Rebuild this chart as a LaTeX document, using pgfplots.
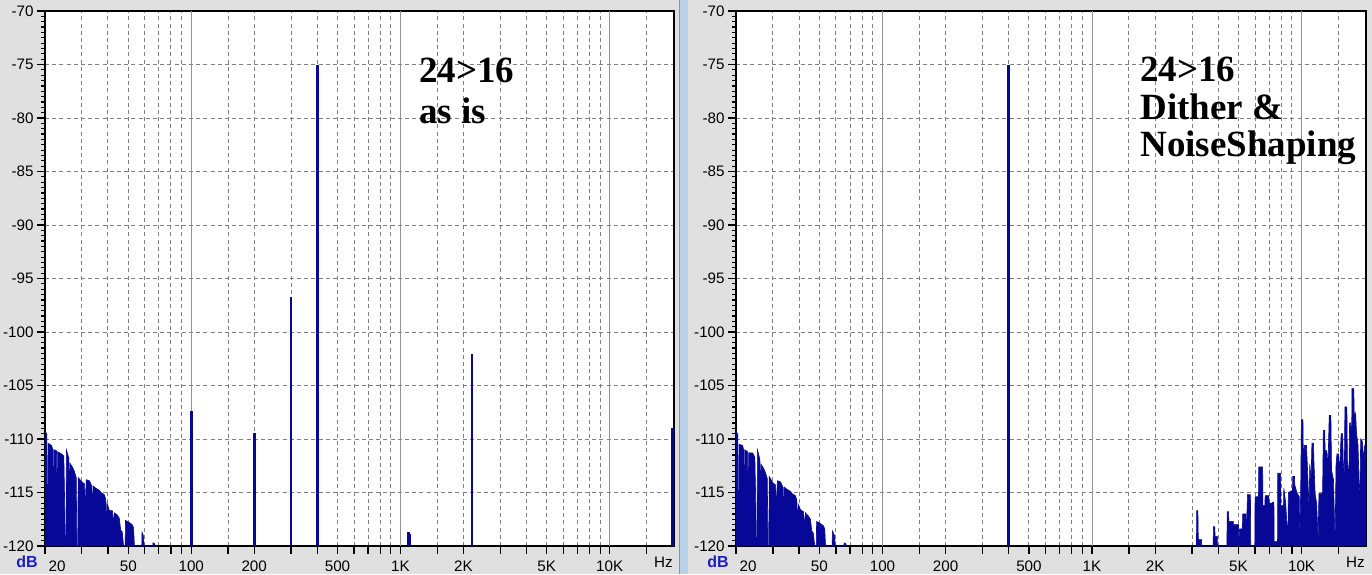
\documentclass[border=0pt]{standalone}
\usepackage{fontspec}
\setmainfont{Liberation Sans}
\newfontfamily\titlefont{Liberation Serif}
\usepackage{pgfplots}
\pgfplotsset{compat=1.18}

\definecolor{bggray}{RGB}{224,224,224}
\definecolor{sepblue}{RGB}{186,209,234}
\definecolor{sepedge}{RGB}{120,150,190}
\definecolor{specblue}{RGB}{8,8,152}
\definecolor{gridgray}{RGB}{128,128,128}
\definecolor{dbblue}{RGB}{30,30,190}

\pgfplotsset{
  every axis/.append style={
    scale only axis, height=267.5pt,
    xmin=20, xmax=20300, ymin=-120, ymax=-70,
    axis background/.style={fill=white},
    axis line style={black, line width=1pt},
    tick align=outside, tick pos=left,
    xtick={20,30,40,50,60,70,80,90,150,200,300,400,500,600,700,800,900,
           1500,2000,3000,4000,5000,6000,7000,8000,9000,15000},
    xticklabels={\hspace*{12pt}20,{},{},50,{},{},{},{},
                 {},200,{},{},500,{},{},{},{},
                 {},2K,{},{},5K,{},{},{},{},{}},
    extra x ticks={100,1000,10000},
    extra x tick labels={100,1K,10K},
    extra x tick style={grid=major, major grid style={solid, gridgray!85, line width=0.5pt}},
    ytick={-120,-115,...,-70},
    minor y tick num=9,
    xmajorgrids, ymajorgrids,
    major grid style={gridgray, dash pattern=on 2pt off 1.6pt, line width=0.5pt},
    major tick length=4pt, minor tick length=2pt,
    every tick/.style={black, line width=0.6pt},
    tick label style={font=\fontsize{7.6}{8}\selectfont},
    yticklabel style={inner xsep=1.5pt},
    /pgf/number format/assume math mode=true,
  },
}

\begin{document}
\begin{tikzpicture}[x=0.5pt,y=-0.5pt]
\useasboundingbox (0,0) rectangle (1372,574);
\fill[bggray] (0,0) rectangle (1372,574);
\fill[sepblue] (679,0) rectangle (688,574);
\draw[sepedge, line width=0.6pt] (679.5,0) -- (679.5,574);
\coordinate (leftorigin) at (45,546);
\coordinate (rightorigin) at (736,546);

% 24>16 as is
\begin{semilogxaxis}[at={(leftorigin)}, anchor=south west, width=314.5pt]
\addplot[fill=specblue, draw=specblue, line width=0.3pt] coordinates {
  (20,-120) (20,-109.3) (20.4,-109.5) (20.5,-115.8) (20.55,-120) (20.65,-120)
  (20.7,-110.4) (21.5,-110.6) (21.8,-111.0) (21.9,-116.8) (21.95,-120)
  (22.05,-111.0) (22.7,-111.1) (22.9,-118.0) (23.0,-111.2) (24.0,-111.4)
  (24.6,-111.6) (24.8,-115.5) (25.0,-120) (25.2,-120) (25.3,-111.0)
  (26.0,-111.8) (26.2,-114.5) (26.4,-112.3) (27.0,-112.6) (27.6,-113.0)
  (28.2,-113.6) (28.4,-120) (28.7,-120) (28.8,-113.6) (30.0,-114.0)
  (30.9,-114.2) (31.2,-116.5) (31.5,-113.8) (32.6,-113.9) (33.5,-114.4)
  (33.7,-117.5) (34.0,-114.4) (35.0,-114.6) (36.4,-114.8) (37.0,-115.0)
  (38.4,-115.2) (39.0,-115.6) (39.3,-118.5) (39.6,-116.0) (40.6,-116.7)
  (42.0,-116.7) (42.5,-118.0) (42.9,-116.9) (44.3,-117.1) (45.3,-117.4)
  (46.0,-118.5) (46.8,-118.7) (47.5,-120) (48.3,-120) (48.5,-117.6)
  (50.5,-117.8) (52.2,-118.0) (53.0,-118.3) (53.5,-120) (58.0,-120)
  (58.2,-118.7) (59.0,-119.0) (59.6,-120) (65.5,-120) (65.6,-119.7)
  (67.0,-119.8) (67.2,-120)
};
\addplot[specblue, line width=1.3pt] coordinates {(100,-120) (100,-107.4)};
\addplot[specblue, line width=1.3pt] coordinates {(200,-120) (200,-109.4)};
\addplot[specblue, line width=1.3pt] coordinates {(300,-120) (300,-96.7)};
\addplot[specblue, line width=1.3pt] coordinates {(400,-120) (400,-75.0)};
\addplot[specblue, line width=1.3pt] coordinates {(1095,-120) (1095,-118.7)};
\addplot[specblue, line width=1.3pt] coordinates {(1110,-120) (1110,-118.9)};
\addplot[specblue, line width=1.3pt] coordinates {(2200,-120) (2200,-102.1)};
\addplot[specblue, line width=1.3pt] coordinates {(20000,-120) (20000,-109.0)};
\end{semilogxaxis}

% 24>16 Dither & NoiseShaping
\begin{semilogxaxis}[at={(rightorigin)}, anchor=south west, width=315pt]
\addplot[fill=specblue, draw=specblue, line width=0.3pt] coordinates {
  (20,-120) (20,-109.2) (20.4,-109.6) (20.5,-116.0) (20.55,-120) (20.65,-120)
  (20.7,-110.5) (21.5,-110.6) (21.8,-111.1) (21.9,-117.0) (21.95,-120)
  (22.05,-111.0) (22.7,-111.2) (22.9,-118.2) (23.0,-111.3) (24.0,-111.3)
  (24.6,-111.7) (24.8,-115.2) (25.0,-120) (25.2,-120) (25.3,-111.0)
  (26.0,-111.9) (26.2,-114.2) (26.4,-112.4) (27.0,-112.7) (27.6,-113.1)
  (28.2,-113.7) (28.4,-120) (28.7,-120) (28.8,-113.5) (30.0,-114.1)
  (30.9,-114.3) (31.2,-116.8) (31.5,-113.9) (32.6,-114.0) (33.5,-114.5)
  (33.7,-117.2) (34.0,-114.5) (35.0,-114.7) (36.4,-114.9) (37.0,-115.1)
  (38.4,-115.3) (39.0,-115.7) (39.3,-118.8) (39.6,-116.1) (40.6,-116.6)
  (42.0,-116.8) (42.5,-118.2) (42.9,-116.9) (44.3,-117.2) (45.3,-117.5)
  (46.0,-118.6) (46.8,-118.8) (47.5,-120) (48.3,-120) (48.5,-117.7)
  (50.5,-117.9) (52.2,-118.1) (53.0,-118.4) (53.5,-120) (57.5,-120)
  (57.7,-118.6) (59.0,-119.0) (59.6,-120) (65.5,-120) (65.6,-119.7)
  (67.0,-119.8) (67.2,-120)
};
\addplot[fill=specblue, draw=specblue, line width=0.3pt] coordinates {
  (3150,-120) (3160,-116.7) (3200,-116.7) (3215,-119.4) (3330,-119.4) (3340,-120)
  (3780,-120) (3800,-118.2) (3850,-118.2) (3870,-119.1) (3960,-119.1) (3970,-120)
  (4400,-120) (4420,-116.8) (4480,-116.8) (4500,-117.7) (4720,-117.7)
  (4740,-119.5) (4760,-118.0) (5000,-118.0) (5020,-119.8) (5060,-118.4)
  (5220,-118.4) (5240,-117.0) (5420,-117.0) (5440,-119.5) (5520,-115.2)
  (5700,-115.2) (5720,-120) (5980,-120) (6000,-115.4) (6230,-115.4)
  (6250,-112.6) (6520,-112.6) (6540,-116.2) (6680,-116.2) (6700,-115.3)
  (6980,-115.3) (7000,-116.0) (7250,-116.0) (7270,-115.9) (7380,-115.9)
  (7400,-119.6) (7680,-119.6) (7700,-113.2) (7950,-113.2) (7970,-116.2)
  (8200,-116.2) (8230,-114.6) (8400,-116.0) (8600,-119.5) (8650,-115.0)
  (9050,-114.8) (9080,-113.5) (9250,-113.5) (9280,-114.3) (9500,-115.0)
  (9750,-115.4) (9800,-119.5) (9900,-115.2) (9980,-108.2) (10150,-108.2)
  (10200,-112.0) (10330,-110.6) (10550,-110.6) (10650,-112.3) (10850,-116.5)
  (10950,-112.3) (11100,-114.0) (11200,-110.4) (11400,-110.4) (11450,-112.0)
  (11600,-115.1) (11800,-116.0) (12000,-119.5) (12100,-115.1) (12600,-115.1)
  (12700,-109.2) (12900,-109.2) (12950,-111.1) (13200,-111.1) (13350,-113.0)
  (13550,-107.8) (13800,-107.8) (13900,-112.9) (14200,-113.8) (14450,-119.8)
  (14600,-112.5) (14750,-111.4) (15000,-111.4) (15200,-113.0) (15450,-109.5)
  (15700,-109.5) (15800,-112.0) (16000,-113.5) (16100,-107.0) (16450,-107.0)
  (16550,-112.0) (16800,-114.0) (16950,-108.5) (17150,-108.5) (17300,-113.0)
  (17400,-105.3) (17750,-105.3) (17850,-108.0) (18100,-107.6) (18300,-109.5)
  (18600,-110.6) (18800,-114.0) (19000,-115.0) (19150,-110.0) (19500,-110.2)
  (19800,-112.0) (20000,-110.6) (20400,-110.9) (20400,-120)
};
\addplot[specblue, line width=1.3pt] coordinates {(400,-120) (400,-75.0)};
\end{semilogxaxis}

% unit and axis captions
\node[anchor=base west, font=\fontsize{8}{9}\selectfont\bfseries, text=dbblue, inner sep=0pt] at (16,567) {dB};
\node[anchor=base east, font=\fontsize{7.6}{8}\selectfont, inner sep=0pt] at (673,567) {Hz};
\node[anchor=base west, font=\fontsize{8}{9}\selectfont\bfseries, text=dbblue, inner sep=0pt] at (707,567) {dB};
\node[anchor=base east, font=\fontsize{7.6}{8}\selectfont, inner sep=0pt] at (1365,567) {Hz};

% panel captions
\node[anchor=base west, inner sep=0pt, font=\titlefont\bfseries\fontsize{18.5}{18.5}\selectfont] at (419,82) {24>16};
\node[anchor=base west, inner sep=0pt, font=\titlefont\bfseries\fontsize{18.5}{18.5}\selectfont] at (419,123) {as is};
\node[anchor=base west, inner sep=0pt, font=\titlefont\bfseries\fontsize{18.5}{18.5}\selectfont] at (1140,81) {24>16};
\node[anchor=base west, inner sep=0pt, font=\titlefont\bfseries\fontsize{18.5}{18.5}\selectfont] at (1140,119) {Dither \&};
\node[anchor=base west, inner sep=0pt, font=\titlefont\bfseries\fontsize{18.5}{18.5}\selectfont] at (1140,156) {NoiseShaping};
\end{tikzpicture}
\end{document}
